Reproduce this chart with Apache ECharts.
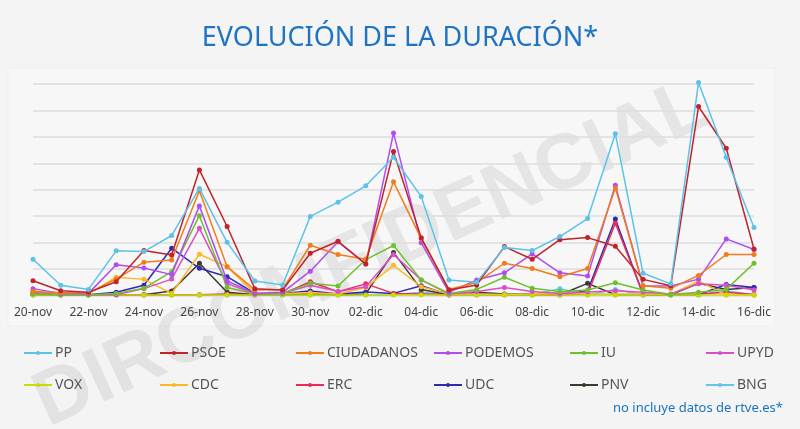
<!DOCTYPE html>
<html>
<head>
<meta charset="utf-8">
<script src="https://cdn.jsdelivr.net/npm/echarts@6/dist/echarts.min.js"></script>
<style>
  html, body { margin: 0; padding: 0; background: #f4f4f4; }
  #duracion-container { width: 800px; height: 429px; }
</style>
</head>
<body>
<div id="duracion-container"></div>
<script type="text/javascript">
// dias
var dias = ['20-nov','21-nov','22-nov','23-nov','24-nov','25-nov','26-nov','27-nov','28-nov','29-nov','30-nov',
  '01-dic','02-dic','03-dic','04-dic','05-dic','06-dic','07-dic','08-dic','09-dic','10-dic','11-dic','12-dic','13-dic','14-dic','15-dic','16-dic'];

var pp = [13.7, 3.9, 2.3, 16.9, 16.6, 22.7, 40.5, 20.1, 5.5, 4.0, 29.9, 35.3, 41.5, 52.3, 37.4, 5.9, 5.0, 18.2, 17.0, 22.3, 29.1, 61.2, 8.4, 4.4, 80.6, 52.3, 25.7];
var psoe = [5.6, 1.8, 1.2, 5.2, 17.0, 15.3, 47.5, 26.1, 2.6, 2.1, 16.0, 20.5, 11.9, 54.5, 21.8, 2.1, 4.0, 18.5, 13.7, 21.1, 21.9, 18.6, 6.1, 3.7, 71.5, 55.7, 17.6];
var ciudadanos = [1.5, 1.0, 1.0, 6.2, 12.6, 13.4, 39.6, 10.9, 2.1, 2.3, 19.0, 15.5, 13.7, 43.0, 21.5, 2.3, 4.9, 12.2, 10.2, 7.1, 10.2, 40.7, 3.7, 2.7, 7.6, 15.5, 15.5];
var podemos = [2.6, 0.8, 0.8, 11.6, 10.4, 7.9, 33.9, 5.5, 0.8, 1.2, 9.2, 20.3, 11.9, 61.5, 20.0, 1.2, 5.9, 8.6, 15.7, 8.6, 7.4, 41.7, 3.7, 3.6, 6.2, 21.4, 17.4];
var iu = [0.6, 0.3, 0.3, 0.8, 2.7, 9.0, 30.2, 3.0, 0.6, 0.8, 4.6, 3.6, 13.6, 18.9, 5.9, 0.8, 2.3, 6.9, 2.7, 1.5, 2.1, 4.8, 2.1, 0.4, 1.2, 2.3, 12.2];
var upyd = [1.2, 0.3, 0.3, 0.3, 2.6, 6.2, 25.4, 4.5, 0.6, 0.8, 3.9, 1.5, 3.3, 15.5, 5.9, 0.6, 1.5, 3.0, 1.5, 0.8, 1.3, 1.8, 1.2, 0.6, 4.4, 3.9, 2.1];
var vox = [0.2, 0.2, 0.2, 0.2, 0.2, 0.2, 0.2, 0.2, 0.2, 0.2, 0.2, 0.2, 0.2, 0.2, 0.2, 0.2, 0.2, 0.2, 0.2, 0.2, 0.2, 0.2, 0.2, 0.2, 0.2, 0.2, 0.2];
var cdc = [1.8, 0.6, 0.6, 6.9, 6.1, 0.8, 15.6, 10.9, 0.8, 0.8, 1.0, 0.6, 3.0, 11.4, 3.3, 0.6, 0.6, 0.4, 0.6, 1.2, 0.6, 0.6, 0.6, 0.4, 5.5, 0.2, 0.2];
var erc = [0.8, 0.3, 0.3, 0.3, 0.3, 0.3, 0.3, 0.6, 0.3, 0.6, 5.2, 1.4, 4.4, 0.8, 0.6, 0.3, 0.3, 0.3, 0.3, 0.3, 0.6, 27.3, 0.6, 0.3, 0.6, 1.2, 0.4];
var udc = [0.5, 0.3, 0.3, 1.2, 3.9, 17.9, 10.3, 7.1, 0.8, 0.8, 1.7, 0.6, 1.3, 0.8, 3.7, 0.3, 0.6, 0.3, 0.6, 0.3, 1.8, 28.9, 0.3, 0.3, 0.3, 4.2, 3.0];
var pnv = [0.3, 0.3, 0.3, 0.3, 0.3, 1.7, 12.2, 1.2, 0.3, 0.3, 0.6, 0.3, 0.6, 16.3, 2.3, 0.3, 1.2, 0.6, 0.3, 0.3, 4.6, 0.3, 0.3, 0.3, 4.6, 2.3, 3.0];
var bng = [0.2, 0.2, 0.2, 0.2, 0.2, 0.2, 0.2, 0.2, 0.2, 0.2, 0.2, 0.2, 0.2, 0.3, 1.2, 0.2, 0.2, 0.4, 0.3, 2.6, 0.3, 2.3, 0.2, 0.2, 0.3, 1.8, 0.2];

var partidos = ['PP','PSOE','CIUDADANOS','PODEMOS','IU','UPYD','VOX','CDC','ERC','UDC','PNV','BNG'];
var valores = [pp, psoe, ciudadanos, podemos, iu, upyd, vox, cdc, erc, udc, pnv, bng];
var colores = ['#5bc3e8','#c0232c','#f07d1a','#b04cf0','#6ec12c','#d94fc9','#c8dc00','#fdb827','#ec2a55','#2f2bb0','#3a3a30','#5ec8ea'];

var dom = document.getElementById("duracion-container");
var myChart = echarts.init(dom);

// seis columnas de leyenda, dos filas
var columnasX = [18, 154, 290, 428, 564, 700];
var leyendas = columnasX.map(function (x, i) {
  return {
    orient: 'vertical',
    left: x,
    top: 341,
    itemGap: 18,
    itemWidth: 28,
    itemHeight: 5,
    textStyle: { color: '#555', fontSize: 14, fontFamily: 'Noto Sans', padding: [0, 0, 0, -2] },
    data: [partidos[i], partidos[i + 6]]
  };
});

var series = partidos.map(function (nombre, i) {
  return {
    name: nombre,
    type: 'line',
    data: valores[i],
    symbol: 'circle',
    symbolSize: 5,
    clip: false,
    z: 20 - i,
    itemStyle: { color: colores[i] },
    lineStyle: { width: 1.5, color: colores[i] }
  };
});

var option = {
  backgroundColor: '#f4f4f4',
  animation: false,
  title: {
    text: 'EVOLUCIÓN DE LA DURACIÓN*',
    left: 'center',
    top: 20,
    textStyle: { color: '#1f74c2', fontSize: 27, fontWeight: 'normal', fontFamily: 'Noto Sans' }
  },
  legend: leyendas,
  grid: { left: 33, right: 46, top: 84, bottom: 133.5 },
  xAxis: {
    type: 'category',
    data: dias,
    boundaryGap: false,
    axisLine: { show: false },
    axisTick: { show: false },
    axisLabel: { interval: 1, color: '#444', fontSize: 12, fontFamily: 'Noto Sans', margin: 11 }
  },
  yAxis: {
    type: 'value',
    min: 0,
    max: 80,
    interval: 10,
    axisLabel: { show: false },
    axisLine: { show: false },
    axisTick: { show: false },
    splitLine: { show: true, lineStyle: { color: '#dcdcdc', width: 1.5 } }
  },
  graphic: [
    {
      type: 'rect',
      z: -10,
      shape: { x: 8, y: 68, width: 767, height: 258 },
      style: { fill: '#f7f7f7', stroke: '#efefef' }
    },
    {
      type: 'text',
      z: -5,
      x: 372,
      y: 255,
      rotation: 0.43,
      style: {
        text: 'DIRCOMFIDENCIAL',
        fill: 'rgba(110,110,110,0.13)',
        font: 'bold 78px "Liberation Sans"',
        align: 'center',
        verticalAlign: 'middle'
      }
    },
    {
      type: 'text',
      right: 17,
      top: 402,
      style: {
        text: 'no incluye datos de rtve.es*',
        fill: '#1a72c0',
        font: '13px "Noto Sans"'
      }
    }
  ],
  series: series
};

myChart.setOption(option, true);
</script>
</body>
</html>
